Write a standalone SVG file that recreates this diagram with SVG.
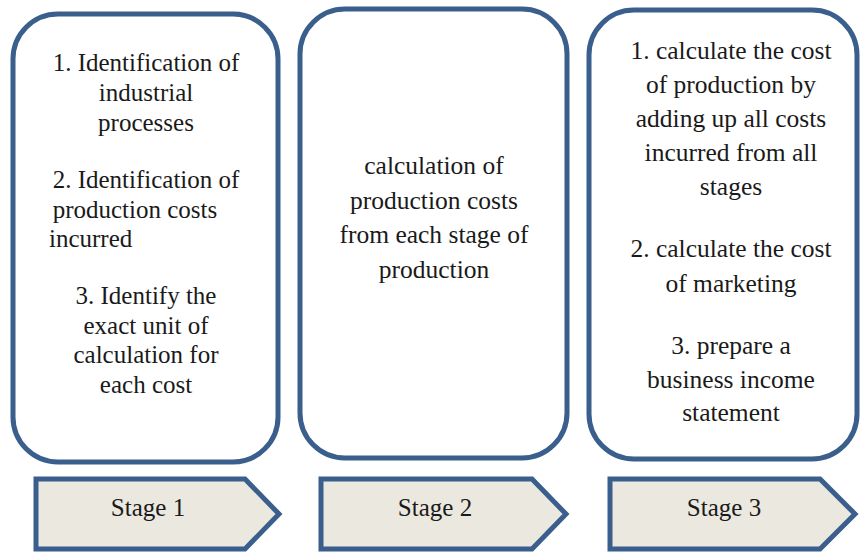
<svg xmlns="http://www.w3.org/2000/svg" width="860" height="552" viewBox="0 0 860 552">
<style>
.box{fill:#ffffff;stroke:#3b5f8d;stroke-width:5}
.arr{fill:#ebe9df;stroke:#3b5f8d;stroke-width:5;stroke-linejoin:miter}
text{font-family:"Liberation Serif",serif;fill:#1a1a1a;text-anchor:middle}
.t1{font-size:25px}
.t2{font-size:25.5px}
</style>
<rect width="860" height="552" fill="#ffffff"/>
<g id="box1">
<rect class="box" x="13" y="14" width="265" height="448" rx="45"/>
<text class="t1" x="146" y="71">1. Identification of</text>
<text class="t1" x="146" y="101">industrial</text>
<text class="t1" x="146" y="131">processes</text>
<text class="t1" x="146" y="188">2. Identification of</text>
<text class="t1" x="135" y="218">production costs</text>
<text class="t1" x="49" y="247" style="text-anchor:start">incurred</text>
<text class="t1" x="146" y="304">3. Identify the</text>
<text class="t1" x="146" y="334">exact unit of</text>
<text class="t1" x="146" y="363">calculation for</text>
<text class="t1" x="146" y="393">each cost</text>
</g>
<g id="box2">
<rect class="box" x="300" y="9" width="267" height="449" rx="45"/>
<text class="t2" x="434" y="174">calculation of</text>
<text class="t2" x="434" y="209">production costs</text>
<text class="t2" x="434" y="243">from each stage of</text>
<text class="t2" x="434" y="278">production</text>
</g>
<g id="box3">
<rect class="box" x="589" y="10" width="268" height="449" rx="45"/>
<text class="t2" x="731" y="59">1. calculate the cost</text>
<text class="t2" x="731" y="93">of production by</text>
<text class="t2" x="731" y="127">adding up all costs</text>
<text class="t2" x="731" y="161">incurred from all</text>
<text class="t2" x="731" y="195">stages</text>
<text class="t2" x="731" y="257">2. calculate the cost</text>
<text class="t2" x="731" y="292">of marketing</text>
<text class="t2" x="731" y="354">3. prepare a</text>
<text class="t2" x="731" y="388">business income</text>
<text class="t2" x="731" y="421">statement</text>
</g>
<g id="stage1">
<polygon class="arr" points="36,479 245,479 279,514 245,549 36,549"/>
<text class="t1" x="148" y="516">Stage 1</text>
</g>
<g id="stage2">
<polygon class="arr" points="321,479 532,479 566,514 532,549 321,549"/>
<text class="t1" x="435" y="516">Stage 2</text>
</g>
<g id="stage3">
<polygon class="arr" points="610,479 820,479 855,514 820,549 610,549"/>
<text class="t1" x="724" y="516">Stage 3</text>
</g>
<g id="connectors"></g>
</svg>
